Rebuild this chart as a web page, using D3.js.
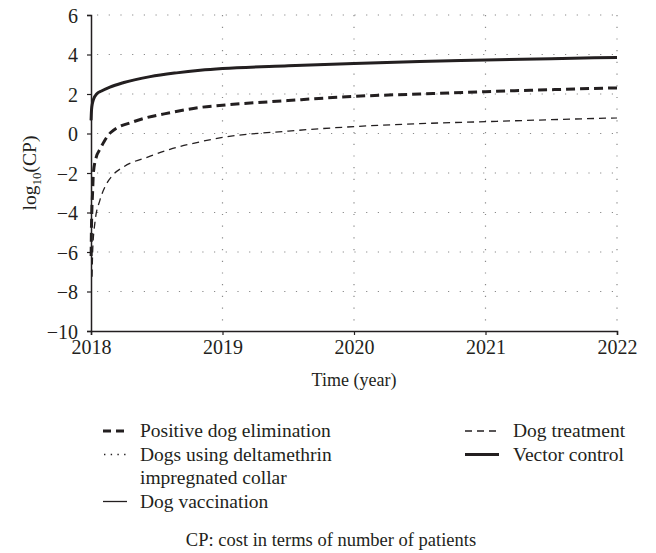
<!DOCTYPE html>
<html><head><meta charset="utf-8">
<script src="https://cdn.jsdelivr.net/npm/d3@7"></script>
<style>body{margin:0;background:#fff}svg text{font-family:"Liberation Serif","Times New Roman",serif;fill:#231f20}</style>
</head><body><svg id="c" width="656" height="553"></svg>
<script>
// Years after 2018 and log10(CP) readings
const positiveDogElimination = [[0.001,-6.2],[0.003,-5],[0.006,-4],[0.012,-3],[0.018,-2],[0.04,-1.2],[0.068,-0.8],[0.1,-0.4],[0.15,0.05],[0.32,0.59],[0.4,0.76],[0.6,1.05],[0.83,1.32],[1,1.43],[1.5,1.67],[2,1.88],[2.5,2.0],[3,2.12],[3.5,2.22],[4,2.31]];
const dogTreatment = [[0.008,-7.25],[0.013,-5.9],[0.03,-4.5],[0.068,-3.37],[0.11,-2.65],[0.167,-2.1],[0.245,-1.7],[0.45,-1.15],[0.6,-0.8],[0.83,-0.42],[1,-0.2],[1.5,0.12],[2,0.35],[2.5,0.5],[3,0.6],[3.5,0.7],[4,0.79]];
const vectorControl = [[0.0005,0.67],[0.004,1.2],[0.01,1.5],[0.02,1.75],[0.043,2.0],[0.08,2.15],[0.144,2.35],[0.25,2.58],[0.45,2.88],[0.65,3.07],[0.83,3.2],[1,3.29],[1.5,3.43],[2,3.55],[2.5,3.65],[3,3.72],[3.5,3.79],[4,3.85]];
const dogsCollar = vectorControl;      // hidden beneath vector control
const dogVaccination = vectorControl;  // hidden beneath vector control
const xTicks = [2018,2019,2020,2021,2022];
const yTicks = [-10,-8,-6,-4,-2,0,2,4,6];

const svg = d3.select("#c");
const m = {l:91, r:617, t:15, b:331};
const x = d3.scaleLinear().domain([2018,2022]).range([m.l,m.r]);
const y = d3.scaleLinear().domain([-10,6]).range([m.b,m.t]);
const ink = "#231f20";

// grid
const g = svg.append("g");
g.selectAll(".hg").data(yTicks.filter(d=>d>-10)).join("line")
  .attr("x1",m.l+6).attr("x2",m.r).attr("y1",d=>y(d)).attr("y2",d=>y(d))
  .attr("stroke","#8a8a8a").attr("stroke-width",1.2).attr("stroke-dasharray","1.2,10.5");
g.selectAll(".vg").data(xTicks.slice(1)).join("line")
  .attr("x1",d=>x(d)).attr("x2",d=>x(d)).attr("y1",m.t).attr("y2",m.b)
  .attr("stroke","#8a8a8a").attr("stroke-width",1.2).attr("stroke-dasharray","1.2,10.5");

// axes
const ax = svg.append("g").attr("transform",`translate(0,${m.b})`)
  .call(d3.axisBottom(x).tickValues(xTicks).tickFormat(d3.format("d")).tickSize(4).tickPadding(5));
const ay = svg.append("g").attr("transform",`translate(${m.l},0)`)
  .call(d3.axisLeft(y).tickValues(yTicks).tickSize(4).tickPadding(9));
[ax,ay].forEach(a=>{
  a.select(".domain").attr("stroke",ink).attr("stroke-width",1.5);
  a.selectAll(".tick line").attr("stroke",ink).attr("stroke-width",1.2);
  a.selectAll("text").attr("font-size",20).attr("fill",ink);
});
ay.selectAll("text").attr("dy","0.35em");

const line = d3.line().x(d=>x(2018+d[0])).y(d=>y(d[1])).curve(d3.curveMonotoneX);
const series = [
  {data:dogsCollar, w:1.3, dash:"1.2,3"},
  {data:dogVaccination, w:1.3, dash:null},
  {data:dogTreatment, w:1.3, dash:"7,5"},
  {data:positiveDogElimination, w:3, dash:"9,5"},
  {data:vectorControl, w:3, dash:null}
];
series.forEach(s=>{
  svg.append("path").datum(s.data).attr("d",line).attr("fill","none")
    .attr("stroke",ink).attr("stroke-width",s.w).attr("stroke-dasharray",s.dash);
});

// axis titles
svg.append("text").attr("x",(m.l+m.r)/2).attr("y",386).attr("text-anchor","middle").attr("font-size",18).text("Time (year)");
const yl = svg.append("text").attr("transform",`translate(36,${(m.t+m.b)/2}) rotate(-90)`).attr("text-anchor","middle").attr("font-size",19.5);
yl.append("tspan").text("log");
yl.append("tspan").attr("font-size",13).attr("dy",4.5).text("10");
yl.append("tspan").attr("dy",-4.5).text("(CP)");

// legend
const legend = [
  {x1:103,x2:127,tx:140,y:431,w:3,dash:"8,5",lab:["Positive dog elimination"]},
  {x1:104,x2:127,tx:140,y:454.5,w:1.4,dash:"1.4,5.3",lab:["Dogs using deltamethrin","impregnated collar"]},
  {x1:103,x2:127,tx:140,y:501.5,w:1.3,dash:null,lab:["Dog vaccination"]},
  {x1:465,x2:499,tx:513,y:431,w:1.3,dash:"7,5",lab:["Dog treatment"]},
  {x1:465,x2:499,tx:513,y:454.5,w:3,dash:null,lab:["Vector control"]}
];
legend.forEach(l=>{
  svg.append("line").attr("x1",l.x1).attr("x2",l.x2).attr("y1",l.y).attr("y2",l.y)
    .attr("stroke",ink).attr("stroke-width",l.w).attr("stroke-dasharray",l.dash);
  l.lab.forEach((t,i)=>svg.append("text").attr("x",l.tx).attr("y",l.y+6+i*23.5).attr("font-size",19.5).text(t));
});
svg.append("text").attr("x",331).attr("y",546).attr("text-anchor","middle").attr("font-size",18.5).text("CP: cost in terms of number of patients");
</script></body></html>
